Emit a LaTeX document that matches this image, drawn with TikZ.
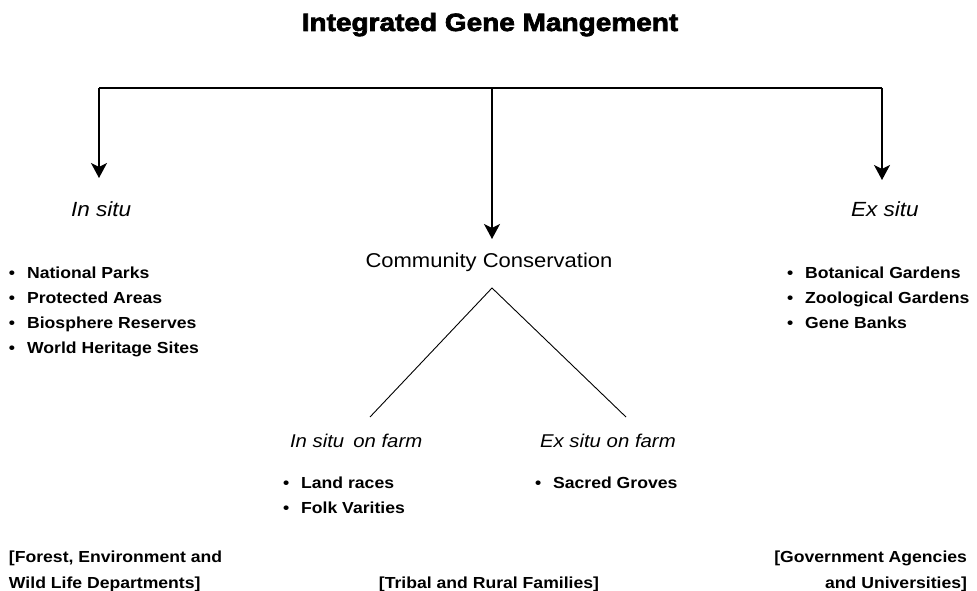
\documentclass[tikz,border=0pt]{standalone}
\usepackage{fontspec}
\setmainfont{Liberation Sans}[FakeStretch=1.1]
\newfontfamily\titlefont{Liberation Sans}[FakeStretch=1.12,FakeBold=2.8]
\usetikzlibrary{arrows.meta}
\begin{document}
\begin{tikzpicture}[x=1pt,y=-1pt,
  every node/.style={inner sep=0pt,outer sep=0pt},
  conn/.style={line width=1.4pt,-{Stealth[length=15pt,width=16pt,inset=4pt]}},
  bar/.style={line width=1.4pt},
  branch/.style={line width=0.9pt},
  titletext/.style={anchor=base,font=\titlefont\bfseries\fontsize{25}{28}\selectfont},
  headtext/.style={anchor=base west,font=\itshape\fontsize{20.5}{24}\selectfont},
  commtext/.style={anchor=base,font=\fontsize{20}{24}\selectfont},
  farmtext/.style={anchor=base west,font=\itshape\fontsize{18.5}{22}\selectfont},
  itemtext/.style={anchor=base west,font=\bfseries\fontsize{16}{20}\selectfont},
  agencytext/.style={font=\bfseries\fontsize{16}{26}\selectfont},
]
\useasboundingbox (0,0) rectangle (977,591);
\node[titletext] (title) at (490,31) {Integrated Gene Mangement};
% top connector
\coordinate (jl) at (99,88);
\coordinate (jc) at (492,88);
\coordinate (jr) at (882,88);
\coordinate (tl) at (99,178);
\coordinate (tc) at (492,239);
\coordinate (tr) at (882,180);
\draw[bar] (jl) -- (jr);
\draw[conn] (jl) -- (tl);
\draw[conn] (jc) -- (tc);
\draw[conn] (jr) -- (tr);
% heads
\node[headtext] (insitu) at (71,216) {In situ};
\node[headtext] (exsitu) at (851,216) {Ex situ};
\node[commtext] (comm) at (489,267) {Community Conservation};
% left list
\node[itemtext] (l1) at (9,278) {•\hskip 12pt National Parks};
\node[itemtext] (l2) at (9,303) {•\hskip 12pt Protected Areas};
\node[itemtext] (l3) at (9,328) {•\hskip 12pt Biosphere Reserves};
\node[itemtext] (l4) at (9,353) {•\hskip 12pt World Heritage Sites};
% right list
\node[itemtext] (r1) at (787,278) {•\hskip 12pt Botanical Gardens};
\node[itemtext] (r2) at (787,303) {•\hskip 12pt Zoological Gardens};
\node[itemtext] (r3) at (787,328) {•\hskip 12pt Gene Banks};
% branches
\coordinate (apex) at (492,288);
\coordinate (bl) at (370,417);
\coordinate (br) at (626,417);
\draw[branch] (bl) -- (apex) -- (br);
\node[farmtext] (infarm) at (290,447) {In situ\hskip 9pt on farm};
\node[farmtext] (exfarm) at (540,447) {Ex situ on farm};
\node[itemtext] (f1) at (283,488) {•\hskip 12pt Land races};
\node[itemtext] (f2) at (283,513) {•\hskip 12pt Folk Varities};
\node[itemtext] (f3) at (535,488) {•\hskip 12pt Sacred Groves};
% agencies
\node[agencytext,anchor=base west,align=left] (ag1) at (9,588) {[Forest, Environment and\\Wild Life Departments]};
\node[agencytext,anchor=base] (ag2) at (489,588) {[Tribal and Rural Families]};
\node[agencytext,anchor=base east,align=right] (ag3) at (967,588) {[Government Agencies\\and Universities]};
\end{tikzpicture}
\end{document}
